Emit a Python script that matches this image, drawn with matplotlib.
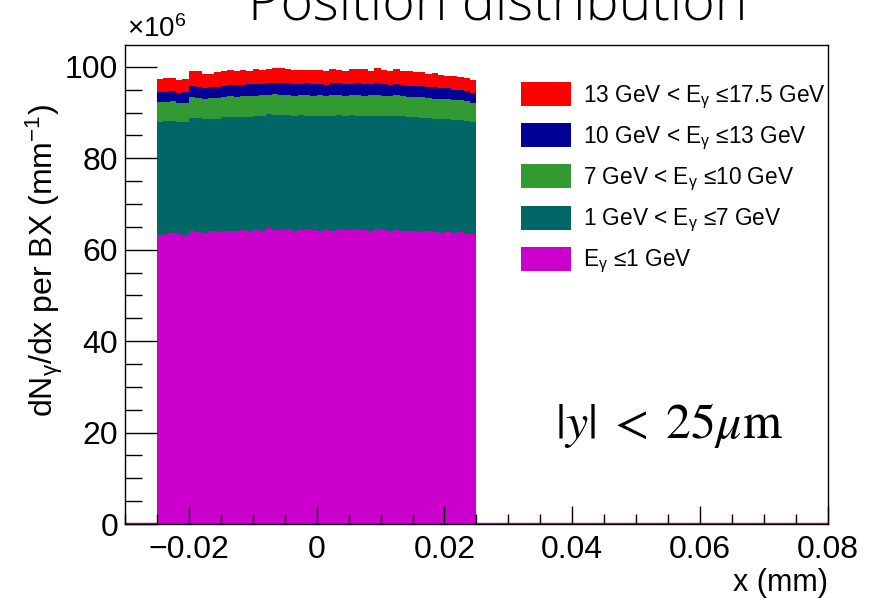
import numpy as np
import matplotlib.pyplot as plt
from matplotlib.patches import Patch

# bin edges: 50 bins from -0.025 to 0.025 mm
x_lo, x_hi, n_bins = -0.025, 0.025, 50

# per-band contributions (x10^6)
e_lt1 = [63.2, 63.4, 63.6, 63.5, 63.3, 64.0, 63.8, 63.6, 64.0, 63.9,
         64.1, 64.2, 64.0, 64.3, 64.1, 64.6, 64.2, 64.7, 64.4, 64.3,
         64.5, 64.2, 64.4, 64.6, 64.3, 64.2, 64.5, 64.1, 64.6, 64.4,
         64.3, 64.5, 64.4, 64.2, 64.6, 64.3, 64.1, 64.4, 64.2, 64.0,
         64.1, 63.9, 64.0, 63.8, 63.7, 63.9, 63.6, 63.8, 63.5, 63.4]
e_1_7 = [24.8, 24.7, 24.6, 24.5, 24.6, 24.9, 25.0, 25.1, 24.6, 24.8,
         25.0, 24.9, 25.1, 24.8, 25.0, 24.7, 25.1, 24.9, 25.0, 25.2,
         24.9, 25.1, 25.0, 24.7, 25.0, 25.1, 24.8, 25.2, 24.8, 24.9,
         25.1, 24.8, 24.9, 25.1, 24.7, 25.0, 25.1, 24.8, 25.0, 25.0,
         24.9, 25.0, 24.8, 24.9, 24.8, 24.6, 24.8, 24.5, 24.7, 24.6]
e_7_10 = [4.3, 4.2, 4.3, 4.2, 4.3, 4.5, 4.4, 4.3, 4.6, 4.4,
          4.3, 4.5, 4.4, 4.6, 4.5, 4.4, 4.5, 4.3, 4.6, 4.4,
          4.5, 4.3, 4.5, 4.6, 4.4, 4.5, 4.3, 4.6, 4.5, 4.4,
          4.5, 4.6, 4.4, 4.5, 4.6, 4.4, 4.5, 4.6, 4.4, 4.5,
          4.4, 4.5, 4.4, 4.3, 4.5, 4.4, 4.3, 4.4, 4.3, 4.2]
e_10_13 = [2.2, 2.2, 2.3, 2.2, 2.3, 2.4, 2.5, 2.4, 2.4, 2.5,
           2.5, 2.4, 2.5, 2.4, 2.6, 2.5, 2.4, 2.6, 2.5, 2.5,
           2.5, 2.6, 2.4, 2.5, 2.6, 2.5, 2.4, 2.6, 2.5, 2.5,
           2.4, 2.6, 2.5, 2.4, 2.6, 2.5, 2.4, 2.5, 2.5, 2.4,
           2.5, 2.4, 2.4, 2.5, 2.3, 2.4, 2.3, 2.3, 2.2, 2.2]
e_13_175 = [2.9, 3.0, 2.8, 2.7, 2.9, 3.2, 3.3, 3.1, 2.8, 3.2,
            3.1, 3.3, 3.0, 3.2, 3.0, 3.3, 3.1, 3.0, 3.2, 3.3,
            3.1, 3.2, 3.0, 2.9, 3.1, 3.0, 3.2, 3.1, 2.9, 3.0,
            3.2, 3.1, 3.3, 3.0, 3.2, 3.1, 3.0, 3.2, 2.9, 3.1,
            3.0, 3.0, 2.9, 3.1, 2.9, 2.8, 3.0, 2.9, 2.8, 2.7]

labels = [r"E$_{\mathrm{γ}}$ ≤1 GeV",
          r"1 GeV < E$_{\mathrm{γ}}$ ≤7 GeV",
          r"7 GeV < E$_{\mathrm{γ}}$ ≤10 GeV",
          r"10 GeV < E$_{\mathrm{γ}}$ ≤13 GeV",
          r"13 GeV < E$_{\mathrm{γ}}$ ≤17.5 GeV"]
colors = ["#cc00cc", "#006666", "#339933", "#000099", "#ff0000"]

plt.rcParams['font.family'] = ['Liberation Sans', 'DejaVu Sans']
plt.rcParams['mathtext.fontset'] = 'custom'
plt.rcParams['mathtext.rm'] = 'Liberation Sans'
plt.rcParams['mathtext.it'] = 'Liberation Sans:italic'

fig = plt.figure(figsize=(8.77, 5.99), dpi=100)
ax = fig.add_axes([0.1425, 0.1252, 0.8015, 0.7997])

edges = np.linspace(x_lo, x_hi, n_bins + 1)
base = np.zeros(n_bins)
for vals, c in zip([e_lt1, e_1_7, e_7_10, e_10_13, e_13_175], colors):
    vals = np.array(vals)
    ax.stairs(base + vals, edges, baseline=base, fill=True, color=c, lw=0)
    base = base + vals

ax.axhline(0, color=colors[0], lw=2.5, zorder=0.5)

ax.set_xlim(-0.03, 0.08)
ax.set_ylim(0, 104.8)
ax.set_xticks([-0.02, 0, 0.02, 0.04, 0.06, 0.08])
ax.set_xticklabels(["\u22120.02", "0", "0.02", "0.04", "0.06", "0.08"])
ax.set_xticks(np.arange(-0.03, 0.0801, 0.005), minor=True)
ax.set_yticks([0, 20, 40, 60, 80, 100])
ax.set_yticks(np.arange(0, 104, 5), minor=True)
ax.tick_params(which='both', direction='in', top=False, right=False,
               labelsize=23, pad=5)
ax.tick_params(axis='x', which='major', length=13, width=1, pad=8)
ax.tick_params(axis='x', which='minor', length=7, width=1)
ax.tick_params(axis='y', which='major', length=23, width=1)
ax.tick_params(axis='y', which='minor', length=12, width=1)
for s in ax.spines.values():
    s.set_linewidth(1)

ax.set_xlabel("x (mm)", fontsize=22, loc='right', labelpad=2)
ax.set_ylabel(r"dN$_{\mathrm{γ}}$/dx per BX (mm$^{-1}$)", fontsize=23)
ax.yaxis.set_label_coords(-0.085, 0.55)
fig.text(0.145, 0.928, r"$\times$10$^{6}$", fontsize=20, ha='left', va='bottom')

handles = [Patch(facecolor=c, edgecolor='none') for c in colors[::-1]]
leg = ax.legend(handles, labels[::-1], loc='upper left',
                bbox_to_anchor=(0.535, 0.965), frameon=False, fontsize=16.3,
                handlelength=2.2, handleheight=1.25, labelspacing=0.56,
                handletextpad=0.52)

ax.text(0.612, 0.205, r"$|y|\;<\;25\mu\mathrm{m}$", transform=ax.transAxes,
        fontsize=36, math_fontfamily='stix', va='center')

fig.text(0.567, 0.945, "Position distribution", fontsize=40, ha='center',
         va='bottom', family='Open Sans', weight='light')

fig.savefig("out.png", dpi=100)
